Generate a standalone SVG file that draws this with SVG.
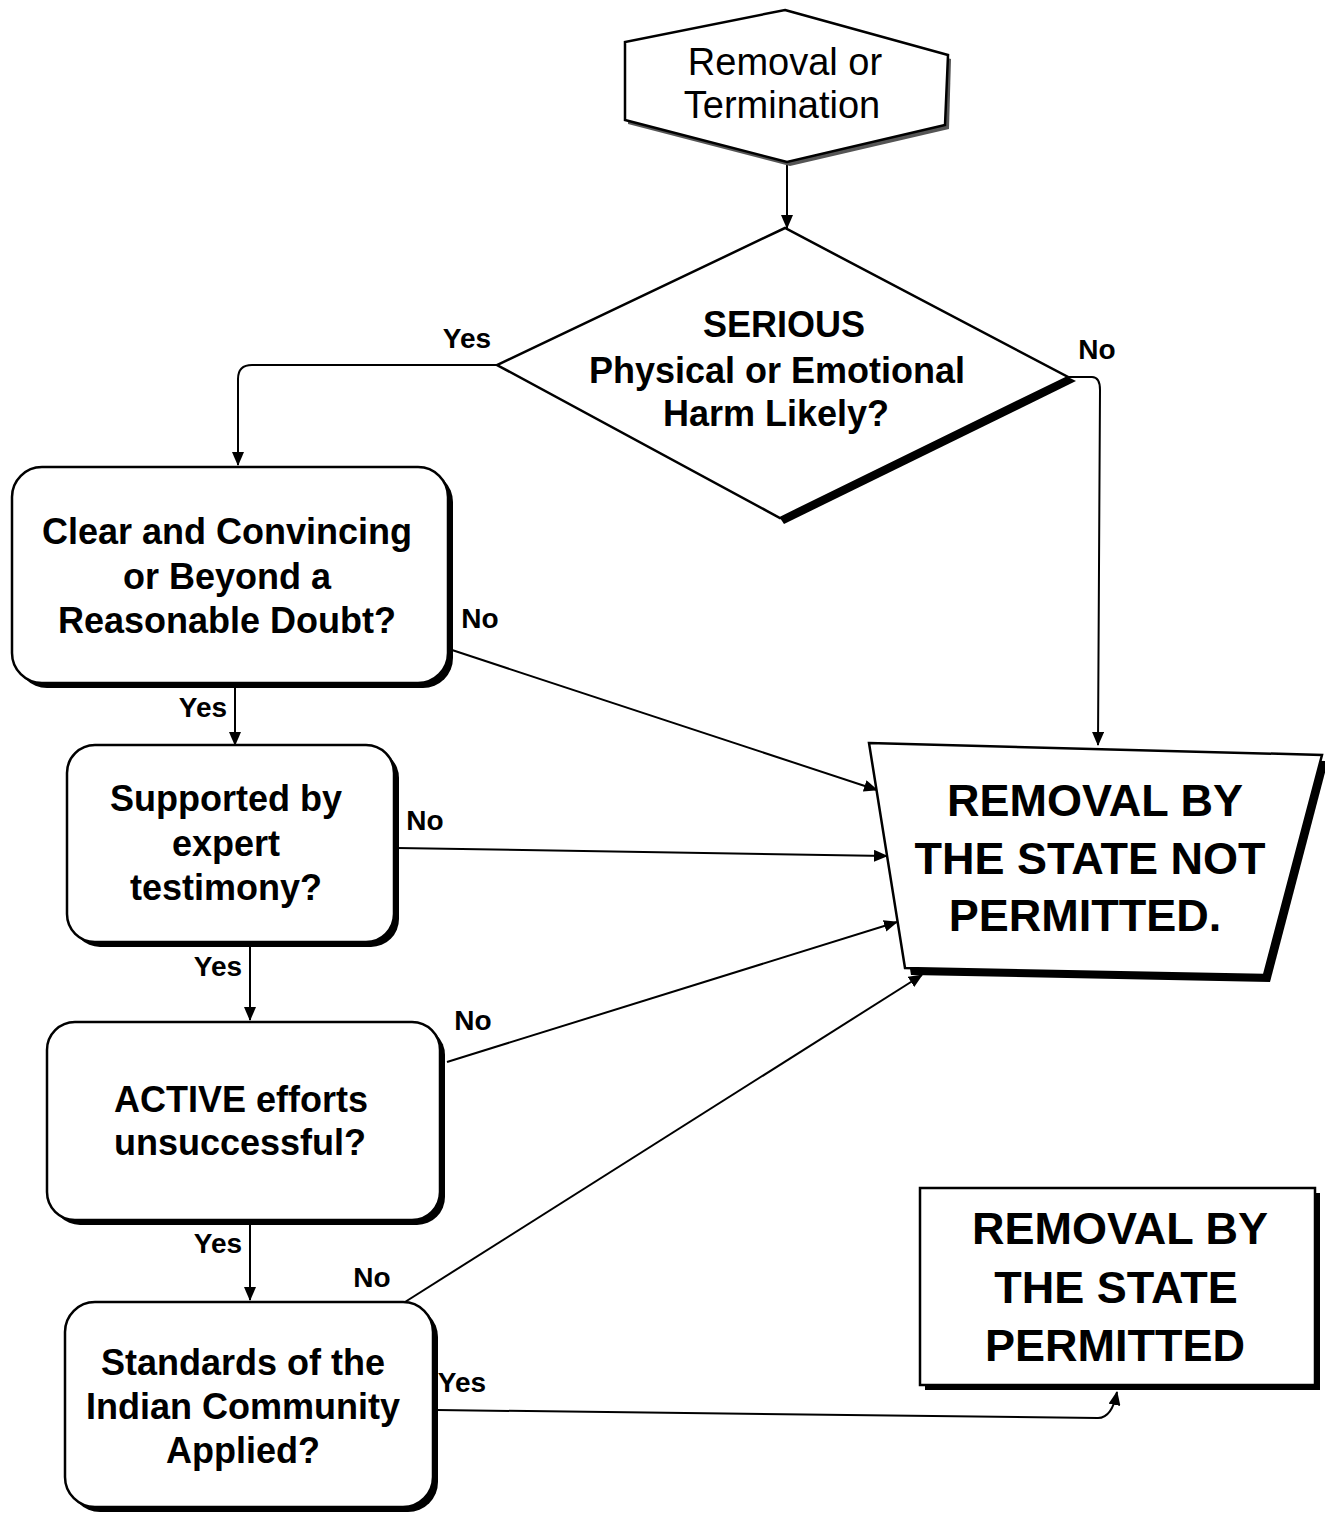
<svg xmlns="http://www.w3.org/2000/svg" width="1325" height="1515" viewBox="0 0 1325 1515">
<defs>
<style>
.sh{fill:#000}
.nd{fill:#fff;stroke:#000;stroke-width:2.5}
.t{font-family:"Liberation Sans",Arial,sans-serif;font-weight:bold;font-size:36px;fill:#000;text-anchor:middle}
.tr{font-family:"Liberation Sans",Arial,sans-serif;font-size:38px;fill:#000;text-anchor:middle}
.big{font-size:45px}
.lb{font-family:"Liberation Sans",Arial,sans-serif;font-weight:bold;font-size:28px;fill:#000;text-anchor:middle}
.c{fill:none;stroke:#000;stroke-width:2;marker-end:url(#ah)}
</style>
<marker id="ah" viewBox="0 0 14 12" refX="13" refY="6" markerWidth="14" markerHeight="12" markerUnits="userSpaceOnUse" orient="auto">
<path d="M0,0 L14,6 L0,12 Z" fill="#000"/>
</marker>
</defs>
<rect width="1325" height="1515" fill="#fff"/>

<g id="connectors">
<path class="c" d="M787,162 L787,228"/>
<path class="c" d="M497,365 L252,365 Q238,365 238,379 L238,465"/>
<path class="c" d="M1068,377 L1092,377 Q1100,377 1100,390 L1098,745"/>
<path class="c" d="M452,650 L877,790"/>
<path class="c" d="M235,686 L235,745"/>
<path class="c" d="M397,848 L887,856"/>
<path class="c" d="M250,947 L250,1020"/>
<path class="c" d="M447,1062 L897,922"/>
<path class="c" d="M250,1222 L250,1300"/>
<path class="c" d="M405,1302 L922,975"/>
<path class="c" d="M437,1410 L1098,1418 Q1112,1418 1117,1392"/>
</g>

<g id="start">
<polygon fill="#555" points="788,14 951,59 949,129 790,166 628,124 628,46"/>
<polygon class="nd" points="785,10 948,55 945,125 787,162 625,120 625,42"/>
<text class="tr" x="785" y="75">Removal or</text>
<text class="tr" x="782" y="118">Termination</text>
</g>

<g id="harm">
<polygon class="sh" points="1068,377 1076,381 784,524 780,518"/>
<polygon class="nd" points="785,228 497,365 780,518 1068,377"/>
<text class="t" x="784" y="337">SERIOUS</text>
<text class="t" x="777" y="383">Physical or Emotional</text>
<text class="t" x="776" y="426">Harm Likely?</text>
</g>

<g id="clear">
<rect class="sh" x="17" y="472" width="436" height="216" rx="30"/>
<rect class="nd" x="12" y="467" width="436" height="216" rx="30"/>
<text class="t" x="227" y="544">Clear and Convincing</text>
<text class="t" x="227" y="589">or Beyond a</text>
<text class="t" x="227" y="633">Reasonable Doubt?</text>
</g>

<g id="expert">
<rect class="sh" x="72" y="750" width="327" height="197" rx="28"/>
<rect class="nd" x="67" y="745" width="327" height="197" rx="28"/>
<text class="t" x="226" y="811">Supported by</text>
<text class="t" x="226" y="856">expert</text>
<text class="t" x="226" y="900">testimony?</text>
</g>

<g id="active">
<rect class="sh" x="52" y="1027" width="393" height="198" rx="28"/>
<rect class="nd" x="47" y="1022" width="393" height="198" rx="28"/>
<text class="t" x="241" y="1112">ACTIVE efforts</text>
<text class="t" x="240" y="1155">unsuccessful?</text>
</g>

<g id="standards">
<rect class="sh" x="70" y="1307" width="368" height="205" rx="30"/>
<rect class="nd" x="65" y="1302" width="368" height="205" rx="30"/>
<text class="t" x="243" y="1375">Standards of the</text>
<text class="t" x="243" y="1419">Indian Community</text>
<text class="t" x="243" y="1463">Applied?</text>
</g>

<g id="not-permitted">
<polygon class="sh" points="875,749 1328,761 1270,982 911,975"/>
<polygon class="nd" points="869,743 1322,755 1264,975 905,968"/>
<text class="t big" x="1095" y="816">REMOVAL BY</text>
<text class="t big" x="1090" y="874">THE STATE NOT</text>
<text class="t big" x="1085" y="931">PERMITTED.</text>
</g>

<g id="permitted">
<rect class="sh" x="925" y="1193" width="395" height="197"/>
<rect class="nd" x="920" y="1188" width="395" height="197"/>
<text class="t big" x="1120" y="1244">REMOVAL BY</text>
<text class="t big" x="1116" y="1303">THE STATE</text>
<text class="t big" x="1115" y="1361">PERMITTED</text>
</g>

<g id="labels">
<text class="lb" x="467" y="348">Yes</text>
<text class="lb" x="1097" y="359">No</text>
<text class="lb" x="480" y="628">No</text>
<text class="lb" x="203" y="717">Yes</text>
<text class="lb" x="425" y="830">No</text>
<text class="lb" x="218" y="976">Yes</text>
<text class="lb" x="473" y="1030">No</text>
<text class="lb" x="218" y="1253">Yes</text>
<text class="lb" x="372" y="1287">No</text>
<text class="lb" x="462" y="1392">Yes</text>
</g>
</svg>
